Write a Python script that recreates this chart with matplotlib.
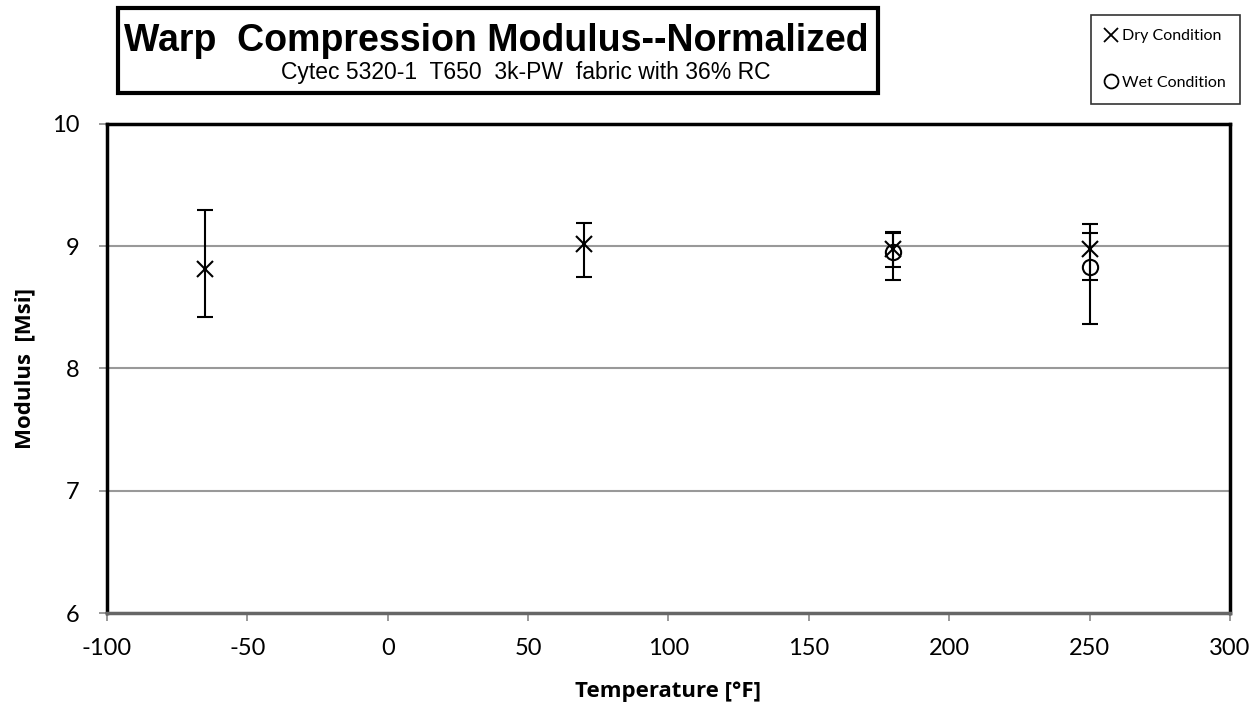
import numpy as np
import matplotlib
matplotlib.use("Agg")
import matplotlib.pyplot as plt
from matplotlib.patches import Rectangle
from matplotlib.lines import Line2D

# data
dry_temp = [-65, 70, 180, 250]
dry_mod = [8.81, 9.02, 8.98, 8.98]
dry_hi = [9.30, 9.19, 9.12, 9.18]
dry_lo = [8.42, 8.75, 8.83, 8.72]

wet_temp = [180, 250]
wet_mod = [8.95, 8.83]
wet_hi = [9.11, 9.11]
wet_lo = [8.72, 8.36]

x_ticks = [-100, -50, 0, 50, 100, 150, 200, 250, 300]
y_ticks = [6, 7, 8, 9, 10]

plt.rcParams['font.family'] = ['Lato', 'DejaVu Sans']

fig = plt.figure(figsize=(12.6, 7.06), dpi=100)
ax = fig.add_axes([0.0849, 0.1317, 0.8913, 0.6927])

dry_err = [np.array(dry_mod) - np.array(dry_lo), np.array(dry_hi) - np.array(dry_mod)]
wet_err = [np.array(wet_mod) - np.array(wet_lo), np.array(wet_hi) - np.array(wet_mod)]

ax.errorbar(dry_temp, dry_mod, yerr=dry_err, fmt='x', color='black', ms=11, mew=1.5,
            ecolor='black', elinewidth=1.5, capsize=6, capthick=1.5, zorder=3)
ax.errorbar(wet_temp, wet_mod, yerr=wet_err, fmt='o', color='black', mfc='none', ms=11, mew=1.5,
            ecolor='black', elinewidth=1.5, capsize=6, capthick=1.5, zorder=3)

ax.set_xlim(-100, 300)
ax.set_ylim(6, 10)
ax.set_xticks(x_ticks)
ax.set_yticks(y_ticks)
ax.set_xticklabels([str(t) for t in x_ticks])
ax.set_yticklabels([str(t) for t in y_ticks])
ax.grid(axis='y', color='#999999', lw=1.5)
ax.set_axisbelow(True)
ax.tick_params(axis='both', which='major', labelsize=17, color='#888888', length=6, width=1.2)
ax.tick_params(axis='x', pad=12)
ax.tick_params(axis='y', pad=14)
for s in ['left', 'top', 'right']:
    ax.spines[s].set_linewidth(2.5)
    ax.spines[s].set_color('black')
ax.spines['bottom'].set_linewidth(2.5)
ax.spines['bottom'].set_color('#666666')

ax.set_xlabel('Temperature [°F]', fontsize=16, fontweight='bold', labelpad=16,
              family=['Open Sans', 'DejaVu Sans'])
ax.set_ylabel('Modulus  [Msi]', fontsize=16, fontweight='bold', labelpad=12,
              family=['Open Sans', 'DejaVu Sans'])

# title box
fig.patches.append(Rectangle((0.0937, 0.8683), 0.603, 0.1204, transform=fig.transFigure,
                             fill=False, edgecolor='black', lw=3))
fig.text(0.394, 0.942, 'Warp  Compression Modulus--Normalized', ha='center', va='center',
         fontsize=27, fontweight='bold', family=['Liberation Sans', 'DejaVu Sans'])
fig.text(0.417, 0.898, 'Cytec 5320-1  T650  3k-PW  fabric with 36% RC', ha='center', va='center',
         fontsize=16.5, family=['Liberation Sans', 'DejaVu Sans'])

handles = [Line2D([], [], ls='none', marker='x', color='black', ms=10, mew=1.3),
           Line2D([], [], ls='none', marker='o', color='black', mfc='none', ms=10, mew=1.3)]
leg = fig.legend(handles, ['Dry Condition', 'Wet Condition'], loc='upper right',
                 bbox_to_anchor=(0.984, 0.979), fontsize=11.5, frameon=True, fancybox=False,
                 edgecolor='black', handlelength=0.7, handletextpad=0.3, borderpad=0.9,
                 labelspacing=2.0, borderaxespad=0)
leg.get_frame().set_linewidth(1.2)

fig.savefig('out.png', dpi=100)
